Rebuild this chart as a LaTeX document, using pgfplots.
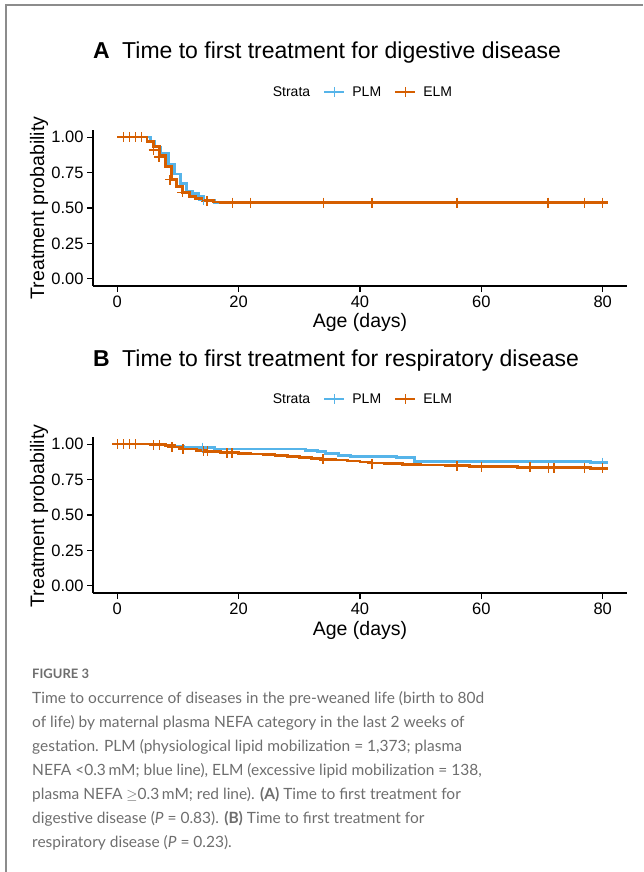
\documentclass[border=0pt]{standalone}
\usepackage{pgfplots}
\pgfplotsset{compat=1.18}
\usepackage{fontspec}
\setmainfont{Liberation Sans}
\newfontfamily\capfont{Lato}

\definecolor{plm}{HTML}{56B4E9}
\definecolor{elm}{HTML}{D55E00}
\definecolor{framegray}{HTML}{8C8C8C}
\definecolor{captxt}{HTML}{6E6E6E}

\pgfplotsset{kmaxis/.style={
    scale only axis, width=534pt, height=156pt,
    xmin=-4, xmax=84, ymin=-0.05, ymax=1.05,
    axis x line=bottom, axis y line=left,
    axis line style={-, black, line width=1.1pt},
    xtick={0,20,40,60,80}, xticklabels={0,20,40,60,80},
    ytick={0,0.25,0.5,0.75,1}, yticklabels={0.00,0.25,0.50,0.75,1.00},
    tick align=outside, major tick length=6pt,
    tick style={black, line width=1.1pt},
    ticklabel style={font=\fontsize{16.5}{19}\selectfont},
    clip=false,
    legend columns=-1,
    legend style={draw=none, fill=none, font=\fontsize{14}{16}\selectfont,
        at={(0.5,1.2436)}, anchor=center,
        /tikz/every odd column/.append style={column sep=5pt},
        /tikz/every even column/.append style={column sep=11pt}},
    legend image code/.code={\draw[mark repeat=2,mark phase=2,#1]
        plot coordinates {(0pt,0pt) (10pt,0pt) (20pt,0pt)};},
  },
  plmline/.style={const plot, plm, line width=2.8pt, forget plot},
  elmline/.style={const plot, elm, line width=2.8pt, forget plot},
  cens/.style={only marks, mark=+, mark size=5pt, line width=1.4pt, forget plot},
  key/.style={line width=2.2pt, mark=+, mark options={mark size=5pt, line width=1.4pt}},
}

\begin{document}
\begin{tikzpicture}
\path[use as bounding box] (0,0) rectangle (643pt,-872pt);
\draw[framegray, line width=2pt] (5.5pt,-872pt) -- (5.5pt,-5.5pt) -- (643pt,-5.5pt);

% ---------- A: digestive disease
\begin{axis}[kmaxis, at={(93pt,-286pt)}, anchor=south west]
\addlegendimage{empty legend}\addlegendentry{Strata}
\addlegendimage{plm, key}\addlegendentry{PLM}
\addlegendimage{elm, key}\addlegendentry{ELM}

\addplot[plmline] coordinates {
  (0,1.0) (5.5,0.97) (6.2,0.93) (7.2,0.885) (8.4,0.81) (9.4,0.74)
  (10.4,0.67) (11.4,0.62) (12.4,0.60) (13.4,0.58) (14.2,0.555)
  (16,0.541) (80.8,0.541)
};
\addplot[cens, plm] coordinates {(14.2,0.555)};
\addplot[elmline] coordinates {
  (0,1.0) (4.9,0.967) (6,0.932) (7,0.87) (7.9,0.79) (9,0.70)
  (9.8,0.65) (10.8,0.61) (11.9,0.58) (12.9,0.566) (14,0.551)
  (15.8,0.542) (17,0.538) (80.8,0.538)
};
\addplot[cens, elm] coordinates {
  (1,1) (2,1) (3,1) (4,1) (6,0.91) (6.9,0.86) (8.7,0.70) (10.7,0.61)
  (14.8,0.551) (19,0.538) (22,0.538) (34,0.538) (42,0.538)
  (56,0.538) (71,0.538) (77,0.538) (80,0.538)
};
\end{axis}

% ---------- B: respiratory disease
\begin{axis}[kmaxis, at={(93pt,-593pt)}, anchor=south west]
\addlegendimage{empty legend}\addlegendentry{Strata}
\addlegendimage{plm, key}\addlegendentry{PLM}
\addlegendimage{elm, key}\addlegendentry{ELM}

\addplot[plmline] coordinates {
  (0,1.0) (7.5,0.993) (9,0.985) (11,0.975) (16,0.965) (31,0.957)
  (33,0.945) (34.3,0.932) (36.5,0.92) (38.5,0.915) (46,0.905)
  (49,0.88) (78,0.87) (80.8,0.87)
};
\addplot[cens, plm] coordinates {(14,0.975) (80,0.87)};
\addplot[elmline] coordinates {
  (0,1.0) (8,0.99) (9.5,0.98) (10.5,0.965) (13,0.955) (14.5,0.948)
  (17,0.942) (20,0.936) (22,0.93) (24,0.924) (26,0.918) (28,0.912)
  (30,0.906) (32,0.90) (33.5,0.894) (36,0.888) (38,0.881) (40,0.874)
  (41.5,0.867) (44,0.862) (47,0.857) (50,0.852) (54,0.848) (58,0.844)
  (62,0.84) (66,0.837) (73,0.833) (78,0.829) (80.8,0.829)
};
\addplot[cens, elm] coordinates {
  (0,1) (1,1) (2,1) (3,1) (6,0.993) (7,0.993) (9,0.98) (10.8,0.965)
  (14.2,0.948) (14.9,0.948) (18.1,0.936) (18.9,0.936) (33.9,0.894)
  (42,0.862) (56,0.846) (60,0.84) (68,0.837) (71.1,0.833) (72,0.833)
  (77,0.833) (80,0.829)
};
\end{axis}

% titles and axis titles
\foreach \dy/\ttl in {0/digestive, 308/respiratory}{
  \node[anchor=base west, inner sep=0, font=\fontsize{23}{26}\selectfont\bfseries]
    at (93pt,{-(58.7pt+\dy pt)}) {\ifnum\dy=0 A\else B\fi};
  \node[anchor=base west, inner sep=0, font=\fontsize{23}{26}\selectfont]
    at (122pt,{-(58.7pt+\dy pt)}) {Time to first treatment for \ttl\ disease};
  \node[anchor=base, inner sep=0, font=\fontsize{19.5}{22}\selectfont]
    at (360pt,{-(327.7pt+\dy pt)}) {Age (days)};
  \node[anchor=base, inner sep=0, rotate=90, font=\fontsize{19.5}{22}\selectfont]
    at (44pt,{-(208pt+\dy pt)}) {Treatment probability};
}

% caption
\node[anchor=base west, inner sep=0, font=\capfont\bfseries\fontsize{13}{15}\selectfont, text=captxt]
  at (32pt,-678pt) {FIGURE 3};
\begin{scope}[every node/.style={anchor=base west, inner sep=0, text=captxt,
    font=\capfont\fontsize{15.5}{18}\selectfont}]
\node at (32pt,-703.3pt) {Time to occurrence of diseases in the pre-weaned life (birth to 80d};
\node at (32pt,-727.3pt) {of life) by maternal plasma NEFA category in the last 2 weeks of};
\node at (32pt,-751.3pt) {gestation. PLM (physiological lipid mobilization = 1,373; plasma};
\node at (32pt,-775.3pt) {NEFA <0.3\,mM; blue line), ELM (excessive lipid mobilization = 138,};
\node at (32pt,-799.3pt) {plasma NEFA $\geq$0.3\,mM; red line). \textbf{(A)} Time to first treatment for};
\node at (32pt,-823.3pt) {digestive disease (\textit{P} = 0.83). \textbf{(B)} Time to first treatment for};
\node at (32pt,-847.3pt) {respiratory disease (\textit{P} = 0.23).};
\end{scope}
\end{tikzpicture}
\end{document}
